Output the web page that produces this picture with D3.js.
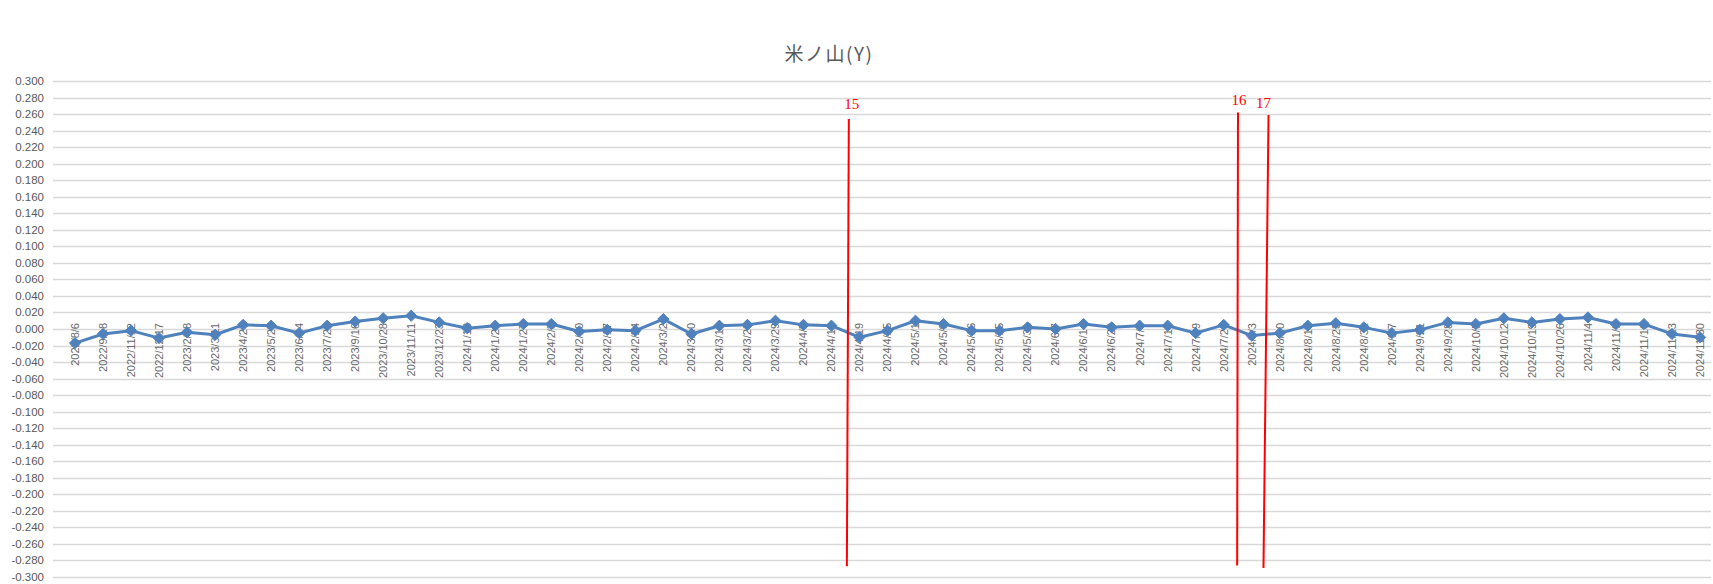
<!DOCTYPE html>
<html>
<head>
<meta charset="utf-8">
<script src="https://cdn.jsdelivr.net/npm/d3@7"></script>
<style>
  html, body { margin: 0; padding: 0; background: #ffffff; }
  svg { display: block; }
</style>
</head>
<body>
<svg id="chart" width="1713" height="584"></svg>
<script>
// ---- data ----
const categories = [
  "2022/8/6","2022/9/18","2022/11/12","2022/12/17","2023/2/18","2023/3/11","2023/4/27","2023/5/27",
  "2023/6/24","2023/7/22","2023/9/16","2023/10/28","2023/11/11","2023/12/23","2024/1/13","2024/1/20",
  "2024/1/27","2024/2/3","2024/2/10","2024/2/17","2024/2/24","2024/3/2","2024/3/10","2024/3/16",
  "2024/3/23","2024/3/29","2024/4/5","2024/4/13","2024/4/19","2024/4/25","2024/5/1","2024/5/9",
  "2024/5/16","2024/5/25","2024/5/31","2024/6/7","2024/6/14","2024/6/29","2024/7/6","2024/7/13",
  "2024/7/19","2024/7/25","2024/8/3","2024/8/10","2024/8/17","2024/8/23","2024/8/31","2024/9/7",
  "2024/9/21","2024/9/28","2024/10/5","2024/10/12","2024/10/19","2024/10/26","2024/11/4","2024/11/9",
  "2024/11/16","2024/11/23","2024/11/30"
];
const values = [
  -0.017,-0.006,-0.002,-0.011,-0.004,-0.007,0.005,0.004,
  -0.005,0.004,0.009,0.013,0.016,0.008,0.001,0.004,
  0.006,0.006,-0.003,-0.001,-0.002,0.012,-0.006,0.004,
  0.005,0.010,0.005,0.004,-0.010,-0.002,0.010,0.006,
  -0.002,-0.002,0.002,0.000,0.006,0.002,0.004,0.004,
  -0.005,0.005,-0.008,-0.005,0.004,0.007,0.002,-0.005,
  -0.001,0.008,0.006,0.013,0.008,0.012,0.014,0.006,
  0.006,-0.006,-0.010
];
const yTicks = [0.30,0.28,0.26,0.24,0.22,0.20,0.18,0.16,0.14,0.12,0.10,0.08,0.06,0.04,0.02,0.00,
  -0.02,-0.04,-0.06,-0.08,-0.10,-0.12,-0.14,-0.16,-0.18,-0.20,-0.22,-0.24,-0.26,-0.28,-0.30];
const title = "米ノ山(Y)";
// annotation markers: label, category-index position at top/bottom, value at top/bottom
const markerLabels = ["15","16","17"];
const markerIdxTop = [27.62, 41.51, 42.60];
const markerIdxBottom = [27.55, 41.48, 42.42];
const markerValTop = [0.254, 0.262, 0.259];
const markerValBottom = [-0.287, -0.286, -0.289];

// ---- layout ----
const svg = d3.select("#chart");
const x = d3.scalePoint().domain(categories).range([75, 1700]);
const step = x.step();
const xi = i => x(categories[0]) + i * step;
const y = d3.scaleLinear().domain([-0.3, 0.3]).range([577, 81]);
const gridLeft = 53, gridRight = 1711;

// gridlines
svg.append("g").selectAll("line").data(yTicks).join("line")
  .attr("x1", gridLeft).attr("x2", gridRight)
  .attr("y1", d => Math.round(y(d)) + 0.5).attr("y2", d => Math.round(y(d)) + 0.5)
  .attr("stroke", "#d9d9d9").attr("stroke-width", 1.3);

// y axis labels
const fmt = v => { const s = Math.abs(v).toFixed(3); return (v < -1e-9 ? "-" : "") + s; };
svg.append("g").selectAll("text").data(yTicks).join("text")
  .attr("x", 44).attr("y", d => y(d)).attr("dy", "0.35em")
  .attr("text-anchor", "end")
  .attr("font-family", "Liberation Sans, Arial, sans-serif")
  .attr("font-size", 11.5).attr("fill", "#595959")
  .text(fmt);

// x axis labels (rotated)
svg.append("g").selectAll("text").data(categories).join("text")
  .attr("transform", d => `translate(${x(d)},${323}) rotate(-90)`)
  .attr("dy", "0.35em")
  .attr("text-anchor", "end")
  .attr("font-family", "Liberation Sans, Arial, sans-serif")
  .attr("font-size", 11).attr("fill", "#6a6a6a")
  .text(d => d);

// series line
const line = d3.line().x((d, i) => x(categories[i])).y(d => y(d));
svg.append("path").datum(values)
  .attr("d", line).attr("fill", "none")
  .attr("stroke", "#4f81bd").attr("stroke-width", 3).attr("stroke-linejoin", "round");

// diamond markers
const diamond = d3.symbol().type(d3.symbolDiamond2).size(80);
svg.append("g").selectAll("path").data(values).join("path")
  .attr("transform", (d, i) => `translate(${x(categories[i])},${y(d)})`)
  .attr("d", diamond).attr("fill", "#4f81bd").attr("stroke", "#4f81bd").attr("stroke-width", 1);

// title
svg.append("text")
  .attr("x", 829).attr("y", 61).attr("text-anchor", "middle")
  .attr("font-family", "Noto Sans CJK JP, sans-serif")
  .attr("font-size", 19).attr("letter-spacing", 1.5).attr("fill", "#595959")
  .text(title);

// red annotation lines
const mk = svg.append("g");
markerLabels.forEach((lab, k) => {
  mk.append("line")
    .attr("x1", xi(markerIdxTop[k])).attr("y1", y(markerValTop[k]))
    .attr("x2", xi(markerIdxBottom[k])).attr("y2", y(markerValBottom[k]))
    .attr("stroke", "#ff0000").attr("stroke-width", 2);
  mk.append("text")
    .attr("x", xi(markerIdxTop[k]) + (k === 2 ? -5 : (k === 0 ? 3 : 1)))
    .attr("y", y(markerValTop[k]) - (k === 0 ? 10 : 7))
    .attr("text-anchor", "middle")
    .attr("font-family", "Liberation Serif, Times New Roman, serif")
    .attr("font-size", 15).attr("fill", "#ff0000")
    .text(lab);
});
</script>
</body>
</html>
